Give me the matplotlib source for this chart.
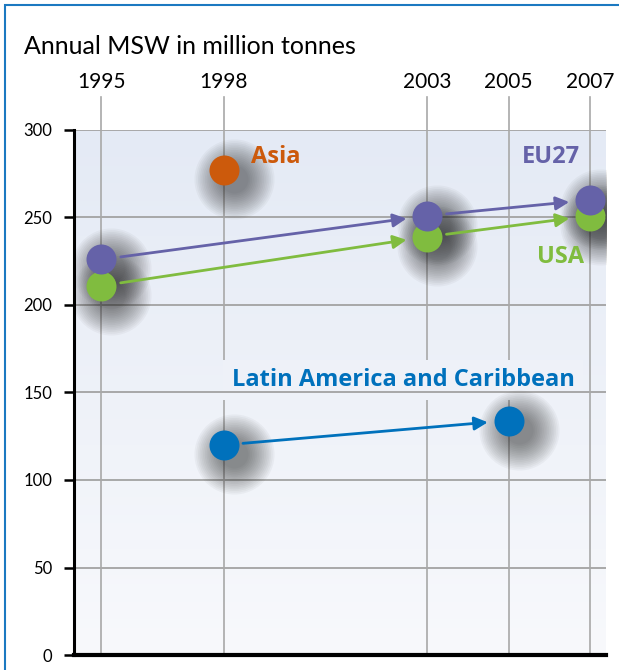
import matplotlib.pyplot as plt
import matplotlib.transforms as mtransforms
from matplotlib.patches import Rectangle
from matplotlib.colors import LinearSegmentedColormap
import numpy as np

plt.rcParams['font.family'] = ['Lato', 'DejaVu Sans']

# data (million tonnes)
years_ticks = [1995, 1998, 2003, 2005, 2007]
eu_years = [1995, 2003, 2007]
eu_vals = [226, 251, 260]
usa_years = [1995, 2003, 2007]
usa_vals = [211, 239, 251]
asia_years = [1998]
asia_vals = [277]
lac_years = [1998, 2005]
lac_vals = [120, 134]

c_eu = "#6562a8"
c_usa = "#80bc3f"
c_asia = "#cc5a0c"
c_lac = "#0071bc"

fig = plt.figure(figsize=(6.19, 6.70), dpi=100)
ax = fig.add_axes([74/619, 15/670, 532/619, 525/670])
ax.set_xlim(1994.325, 2007.393)
ax.set_ylim(0, 300)

# gradient background
cmap = LinearSegmentedColormap.from_list("bg", ["#f8f9fc", "#e4eaf5"])
grad = np.linspace(0, 1, 256).reshape(-1, 1)
ax.imshow(grad, cmap=cmap, origin="lower", aspect="auto",
          extent=[1994.325, 2007.393, 0, 300], zorder=0)

# grid: verticals behind the label knock-out, horizontals in front of it
for yv in [50, 100, 150, 200, 250, 300]:
    ax.axhline(yv, color="#a8a8a8", lw=1.4, zorder=2)
for xv in years_ticks:
    ax.axvline(xv, ymin=0, ymax=1.063, color="#a8a8a8", lw=1.2, zorder=1, clip_on=False)

ax.set_xticks(years_ticks)
ax.set_xticklabels([str(y) for y in years_ticks])
ax.xaxis.tick_top()
ax.tick_params(axis="x", length=0, pad=27, labelsize=15)
ax.set_yticks([0, 50, 100, 150, 200, 250, 300])
ax.tick_params(axis="y", length=7.2, width=1.8, labelsize=12, pad=8.5)
for s in ["top", "right"]:
    ax.spines[s].set_visible(False)
ax.spines["left"].set_linewidth(2.2)
ax.spines["bottom"].set_linewidth(3)
ax.spines["left"].set_zorder(6)
ax.spines["bottom"].set_zorder(6)


def shadow(xs, ys):
    off = mtransforms.offset_copy(ax.transData, fig=fig, x=10, y=-9, units="dots")
    for r in np.linspace(40, 14, 16):
        ax.scatter(xs, ys, s=(r * 0.72 * 2) ** 2, color="#202020", alpha=0.04,
                   lw=0, transform=off, zorder=3)


def series(xs, ys, color):
    shadow(xs, ys)
    for i in range(len(xs) - 1):
        ax.annotate("", xy=(xs[i + 1], ys[i + 1]), xytext=(xs[i], ys[i]),
                    arrowprops=dict(arrowstyle="-|>", color=color, lw=2,
                                    mutation_scale=20, shrinkA=14, shrinkB=15),
                    zorder=4)
    ax.scatter(xs, ys, s=(15 * 0.72 * 2) ** 2, color=color, lw=0, zorder=5)


series(usa_years, usa_vals, c_usa)
series(eu_years, eu_vals, c_eu)
series(asia_years, asia_vals, c_asia)
series(lac_years, lac_vals, c_lac)

lab = dict(fontsize=17, fontweight="bold", family=["Open Sans", "DejaVu Sans"],
           ha="left", va="center")
ax.text(1998.68, 284.6, "Asia", color=c_asia, zorder=7, **lab)
ax.text(2005.33, 284.6, "EU27", color=c_eu, zorder=7, **lab)
ax.text(2005.7, 227.4, "USA", color=c_usa, zorder=7, **lab)
ax.text(1998.2, 157.1, "Latin America and Caribbean", color=c_lac, zorder=1.5,
        bbox=dict(boxstyle="square,pad=0.35", fc="#eef1f8", ec="none"), **lab)

fig.text(24/619, 1 - 46/670, "Annual MSW in million tonnes", fontsize=18,
         ha="left", va="center")

# outer frame
fig.patches.append(Rectangle((5/619, -0.1), 1.2, 1 - 5/670 + 0.1, transform=fig.transFigure,
                             fill=False, ec="#1b79c1", lw=1.5))

fig.savefig("out.png", dpi=100)
